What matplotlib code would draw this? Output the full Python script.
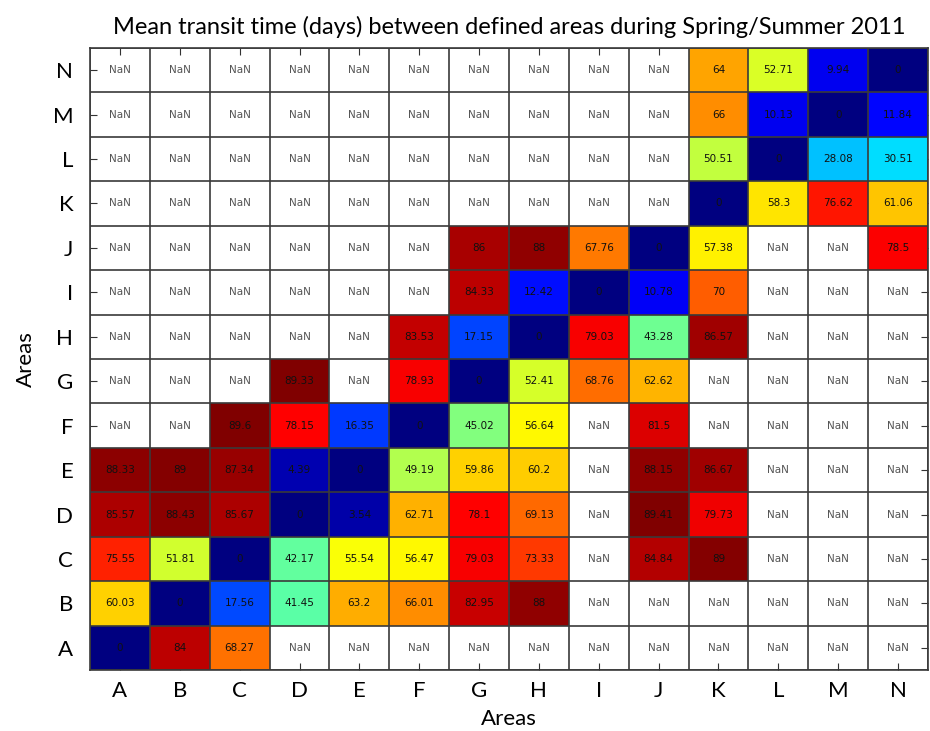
import numpy as np
import matplotlib
matplotlib.use("Agg")
import matplotlib.pyplot as plt
from matplotlib.colors import LinearSegmentedColormap

areas = list("ABCDEFGHIJKLMN")
nan = np.nan

# rows listed from A (bottom) to N (top), columns A..N
row_A = [0, 84, 68.27, nan, nan, nan, nan, nan, nan, nan, nan, nan, nan, nan]
row_B = [60.03, 0, 17.56, 41.45, 63.2, 66.01, 82.95, 88, nan, nan, nan, nan, nan, nan]
row_C = [75.55, 51.81, 0, 42.17, 55.54, 56.47, 79.03, 73.33, nan, 84.84, 89, nan, nan, nan]
row_D = [85.57, 88.43, 85.67, 0, 3.54, 62.71, 78.1, 69.13, nan, 89.41, 79.73, nan, nan, nan]
row_E = [88.33, 89, 87.34, 4.39, 0, 49.19, 59.86, 60.2, nan, 88.15, 86.67, nan, nan, nan]
row_F = [nan, nan, 89.6, 78.15, 16.35, 0, 45.02, 56.64, nan, 81.5, nan, nan, nan, nan]
row_G = [nan, nan, nan, 89.33, nan, 78.93, 0, 52.41, 68.76, 62.62, nan, nan, nan, nan]
row_H = [nan, nan, nan, nan, nan, 83.53, 17.15, 0, 79.03, 43.28, 86.57, nan, nan, nan]
row_I = [nan, nan, nan, nan, nan, nan, 84.33, 12.42, 0, 10.78, 70, nan, nan, nan]
row_J = [nan, nan, nan, nan, nan, nan, 86, 88, 67.76, 0, 57.38, nan, nan, 78.5]
row_K = [nan] * 10 + [0, 58.3, 76.62, 61.06]
row_L = [nan] * 10 + [50.51, 0, 28.08, 30.51]
row_M = [nan] * 10 + [66, 10.13, 0, 11.84]
row_N = [nan] * 10 + [64, 52.71, 9.94, 0]

data = np.array([row_A, row_B, row_C, row_D, row_E, row_F, row_G,
                 row_H, row_I, row_J, row_K, row_L, row_M, row_N])
n = len(areas)

# MATLAB-style jet
mjet = LinearSegmentedColormap("mjet", {
    "red":   [(0, 0, 0), (0.375, 0, 0), (0.625, 1, 1), (0.875, 1, 1), (1, 0.5, 0.5)],
    "green": [(0, 0, 0), (0.125, 0, 0), (0.375, 1, 1), (0.625, 1, 1), (0.875, 0, 0), (1, 0, 0)],
    "blue":  [(0, 0.5, 0.5), (0.125, 1, 1), (0.375, 1, 1), (0.625, 0, 0), (1, 0, 0)],
})

fig = plt.figure(figsize=(9.3, 7.31), dpi=100)
ax = fig.add_axes([0.0968, 0.0834, 0.901, 0.851])

masked = np.ma.masked_invalid(data)
ax.pcolormesh(np.arange(n + 1) - 0.5, np.arange(n + 1) - 0.5, masked,
              cmap=mjet, vmin=0, vmax=89.6, zorder=1)
ax.set_axisbelow(True)

# cell borders
for k in np.arange(n + 1) - 0.5:
    ax.axhline(k, color="#3a3a3a", lw=1.2, zorder=3)
    ax.axvline(k, color="#3a3a3a", lw=1.2, zorder=3)

for i in range(n):
    for j in range(n):
        v = data[i, j]
        if np.isnan(v):
            ax.text(j, i, "NaN", ha="center", va="center", fontsize=7.5,
                    color="#555555", zorder=4)
        else:
            ax.text(j, i, f"{v:g}", ha="center", va="center", fontsize=7.5,
                    color="#111111", zorder=4)

ax.set_xlim(-0.5, n - 0.5)
ax.set_ylim(-0.5, n - 0.5)
ax.set_xticks(range(n))
ax.set_yticks(range(n))
ax.set_xticklabels(areas, fontsize=16, family="Lato")
ax.set_yticklabels(areas, fontsize=16, family="Lato")
ax.tick_params(direction="in", length=5, width=0.8, color="#333333",
               top=True, right=True)
ax.tick_params(axis="x", pad=8)
ax.tick_params(axis="y", pad=12)
for s in ax.spines.values():
    s.set_color("#3a3a3a")
    s.set_linewidth(1.2)

ax.set_xlabel("Areas", fontsize=16, family="Lato", labelpad=6)
ax.set_ylabel("Areas", fontsize=16, family="Lato", labelpad=12)
ax.set_title("Mean transit time (days) between defined areas during Spring/Summer 2011",
             fontsize=17, family="Lato", pad=10)

fig.savefig("out.png", dpi=100)
